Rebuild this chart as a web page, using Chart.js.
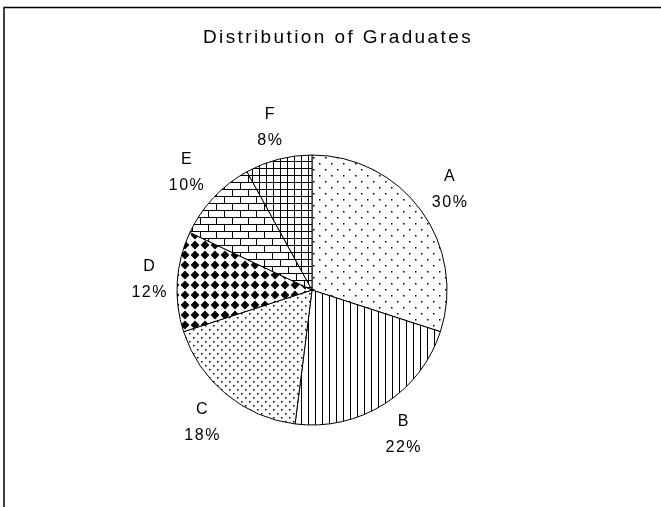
<!DOCTYPE html>
<html>
<head>
<meta charset="utf-8">
<script src="https://cdn.jsdelivr.net/npm/chart.js@4.4.1/dist/chart.umd.min.js"></script>
<style>
  html, body { margin: 0; padding: 0; background: #fff; }
  #wrap { width: 661px; height: 507px; }
</style>
</head>
<body>
<div id="wrap"><canvas id="Cnvs" width="661" height="507"></canvas></div>
<script>
var chartTitle = 'Distribution of Graduates';
var categories = ['A', 'B', 'C', 'D', 'E', 'F'];
var shares = [30, 22, 18, 12, 10, 8];

// little tiles used as fill patterns, one per slice
function makeTile(w, h, draw) {
  var c = document.createElement('canvas');
  c.width = w; c.height = h;
  var g = c.getContext('2d');
  g.fillStyle = '#fff';
  g.fillRect(0, 0, w, h);
  g.fillStyle = '#000';
  g.strokeStyle = '#000';
  g.lineWidth = 1;
  draw(g);
  return document.getElementById('Cnvs').getContext('2d').createPattern(c, 'repeat');
}

var sparseDots = makeTile(12, 12, function(g) {
  g.fillRect(1, 1, 1.5, 1.5);
  g.fillRect(7, 7, 1.5, 1.5);
});
var vLines = makeTile(7, 1, function(g) {
  g.fillRect(0, 0, 1, 1);
});
var denseDots = makeTile(8, 8, function(g) {
  g.fillRect(1, 1, 1.5, 1.5);
  g.fillRect(5, 5, 1.5, 1.5);
});
var diamonds = makeTile(10, 10, function(g) {
  g.beginPath();
  g.moveTo(5, 0.6); g.lineTo(9.4, 5); g.lineTo(5, 9.4); g.lineTo(0.6, 5);
  g.closePath();
  g.fill();
});
var bricks = makeTile(16, 14, function(g) {
  g.fillRect(0, 0, 16, 1);
  g.fillRect(0, 7, 16, 1);
  g.fillRect(0, 0, 1, 7);
  g.fillRect(8, 7, 1, 7);
});
var grid = makeTile(7, 7, function(g) {
  g.fillRect(0, 0, 7, 1);
  g.fillRect(0, 0, 1, 7);
});
var fills = [sparseDots, vLines, denseDots, diamonds, bricks, grid];

// frame + title + outside labels
var decor = {
  id: 'decor',
  beforeDraw: function(chart) {
    var ctx = chart.ctx;
    ctx.save();
    ctx.fillStyle = '#fff';
    ctx.fillRect(0, 0, chart.width, chart.height);
    ctx.strokeStyle = '#000';
    ctx.lineWidth = 1.5;
    ctx.strokeRect(4, 7.5, chart.width + 10, chart.height + 10);
    ctx.fillStyle = '#000';
    ctx.font = '19px "Liberation Sans", Arial, sans-serif';
    ctx.letterSpacing = '2.4px';
    ctx.textAlign = 'center';
    ctx.textBaseline = 'middle';
    ctx.fillText(chartTitle, 338, 38);
    ctx.restore();
  },
  afterDraw: function(chart) {
    var ctx = chart.ctx;
    var meta = chart.getDatasetMeta(0);
    ctx.save();
    ctx.fillStyle = '#000';
    ctx.font = '16px "Liberation Sans", Arial, sans-serif';
    ctx.letterSpacing = '1.5px';
    ctx.textAlign = 'center';
    ctx.textBaseline = 'middle';
    meta.data.forEach(function(arc, i) {
      var p = arc.getProps(['x', 'y', 'startAngle', 'endAngle', 'outerRadius'], true);
      var mid = (p.startAngle + p.endAngle) / 2;
      var cx = Math.cos(mid), cy = Math.sin(mid);
      var pct = shares[i] + '%';
      var w = Math.max(ctx.measureText(categories[i]).width, ctx.measureText(pct).width);
      var h = 44;
      var d = p.outerRadius + 8 + Math.abs(cx) * w / 2 + Math.abs(cy) * h / 2;
      var x = p.x + cx * d, y = p.y + cy * d;
      ctx.fillText(categories[i], x, y - 13);
      ctx.fillText(pct, x, y + 13);
    });
    ctx.restore();
  }
};

var pieChart = new Chart(document.getElementById('Cnvs'), {
  type: 'pie',
  data: {
    labels: categories,
    datasets: [{
      data: shares,
      backgroundColor: fills,
      borderColor: '#000',
      borderWidth: 1
    }]
  },
  options: {
    responsive: false,
    animation: false,
    radius: 135,
    layout: { padding: { top: 150, bottom: 77, left: 150, right: 187 } },
    plugins: {
      legend: { display: false },
      tooltip: { enabled: false },
      title: { display: false }
    }
  },
  plugins: [decor]
});
</script>
</body>
</html>
